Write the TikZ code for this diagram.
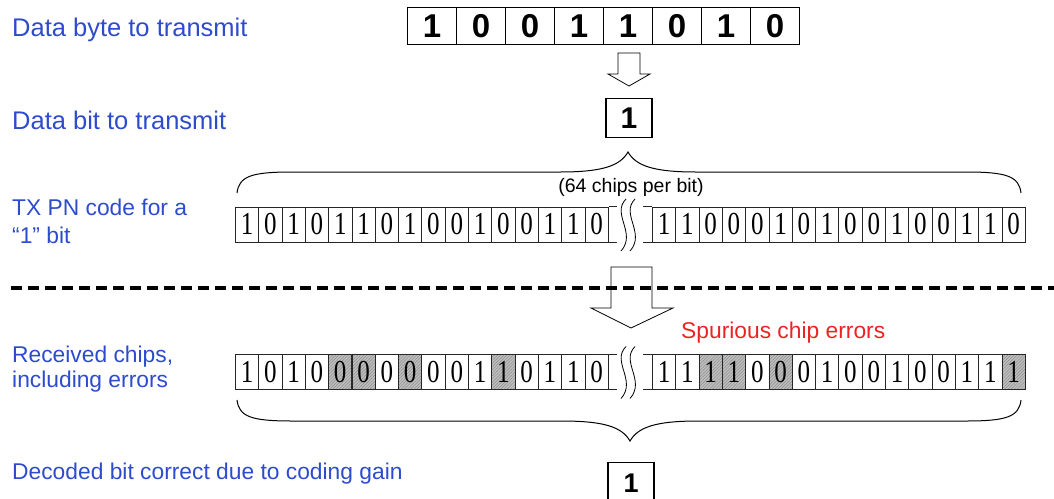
\documentclass[tikz,border=0pt]{standalone}
\usepackage{fontspec}
\setmainfont{Liberation Serif}
\setsansfont{Liberation Sans}
\usepackage{graphicx}
\usetikzlibrary{patterns.meta}
\definecolor{lblue}{RGB}{45,75,205}
\definecolor{sred}{RGB}{235,35,35}
\begin{document}
\begin{tikzpicture}[x=1pt,y=-1pt,
  lbl/.style={text=lblue,font=\sffamily\fontsize{25.5}{28}\selectfont,anchor=base west,inner sep=0pt},
  lbls/.style={text=lblue,font=\sffamily\fontsize{22.8}{28}\selectfont,anchor=base west,inner sep=0pt,align=left},
  bytecell/.style={draw,line width=1.3pt,minimum width=49pt,minimum height=37pt,inner sep=0pt,anchor=north west,font=\sffamily\bfseries\fontsize{33}{33}\selectfont},
  bitbox/.style={draw,line width=1.1pt,minimum width=46pt,minimum height=39pt,inner sep=0pt,anchor=north,font=\sffamily\bfseries\fontsize{30}{30}\selectfont},
  chip/.style={draw=black!85,line width=0.8pt,minimum width=23.3pt,minimum height=35pt,inner sep=0pt,anchor=north west,font=\fontsize{25}{25}\selectfont},
  err/.style={chip,preaction={fill=black!25},pattern={Lines[angle=45,distance=2.2pt,line width=0.5pt]},pattern color=black!45},
  chipline/.style={draw=black!85,line width=0.8pt},
  blockarrow/.style={draw,line width=0.8pt,fill=white,line join=miter},
  brace/.style={draw,line width=1pt},
  breakmark/.style={draw,line width=0.8pt},
  ]
\useasboundingbox (0,0) rectangle (1054,498);

% labels
\node[lbl] (l1) at (12,36) {Data byte to transmit};
\node[lbl] (l2) at (12,129) {Data bit to transmit};
\node[lbls] (l3) at (12,215) {TX PN code for a};
\node[lbls] (l3b) at (12,243) {“1” bit};
\node[lbls] (l4) at (12,362) {Received chips,};
\node[lbls] (l4b) at (12,387) {including errors};
\node[lbls] (l5) at (12,479) {Decoded bit correct due to coding gain};

% byte
\foreach \b [count=\i from 0] in {1,0,0,1,1,0,1,0}
  \node[bytecell] (byte\i) at ({407+49*\i},7) {\b};

% arrow 1
\draw[blockarrow] (618,53) -- (640,53) -- (640,74) -- (650,74) -- (629,86) -- (608,74) -- (618,74) -- cycle;

% bit box
\node[bitbox] (bit) at (629,98) {1};

% top brace
\draw[brace] (237,193) .. controls (239,176) and (252,172) .. (292,172) -- (560,172)
  .. controls (602,172) and (620,166) .. (628,152)
  .. controls (636,166) and (654,172) .. (696,172) -- (966,172)
  .. controls (1006,172) and (1019,176) .. (1021,193);
\node[font=\sffamily\fontsize{19.5}{20}\selectfont,anchor=base,inner sep=0pt] (chips) at (631,192) {(64 chips per bit)};

% TX row
\foreach \b [count=\i from 0] in {1,0,1,0,1,1,0,1,0,0,1,0,0,1,1,0}
  \node[chip] (ta\i) at ({235+23.3*\i},206.5) {\scalebox{1}[1.28]{\b}};
\foreach \b [count=\i from 0] in {1,1,0,0,0,1,0,1,0,0,1,0,0,1,1,0}
  \node[chip] (tb\i) at ({652+23.3*\i},206.5) {\scalebox{1}[1.28]{\b}};
\draw[chipline] (ta15.north east) -- ++(8,0) (ta15.south east) -- ++(8,0);
\draw[chipline] (tb0.north west) -- ++(-9,0) (tb0.south west) -- ++(-9,0);
\draw[breakmark] (626,199) .. controls (611,214) and (637,233) .. (621,251);
\draw[breakmark] (635,199) .. controls (620,214) and (646,233) .. (630,251);

% arrow 2 and dashed line
\draw[blockarrow] (611,267) -- (652,267) -- (652,308) -- (673,308) -- (631,328) -- (591,308) -- (611,308) -- cycle;
\draw[line width=3.5pt,dash pattern=on 11pt off 6pt] (11,288) -- (1054,288);

\node[text=sred,font=\sffamily\fontsize{22.8}{26}\selectfont,anchor=base west,inner sep=0pt] (spur) at (681,338) {Spurious chip errors};

% RX row
\foreach \b/\s [count=\i from 0] in {1/chip,0/chip,1/chip,0/chip,0/err,0/err,0/chip,0/err,0/chip,0/chip,1/chip,1/err,0/chip,1/chip,1/chip,0/chip}
  \node[\s] (ra\i) at ({235+23.3*\i},354) {\scalebox{1}[1.28]{\b}};
\foreach \b/\s [count=\i from 0] in {1/chip,1/chip,1/err,1/err,0/chip,0/err,0/chip,1/chip,0/chip,0/chip,1/chip,0/chip,0/chip,1/chip,1/chip,1/err}
  \node[\s] (rb\i) at ({652+23.3*\i},354) {\scalebox{1}[1.28]{\b}};
\draw[chipline] (ra15.north east) -- ++(8,0) (ra15.south east) -- ++(8,0);
\draw[chipline] (rb0.north west) -- ++(-9,0) (rb0.south west) -- ++(-9,0);
\draw[breakmark] (626,346.5) .. controls (611,361.5) and (637,380.5) .. (621,398.5);
\draw[breakmark] (635,346.5) .. controls (620,361.5) and (646,380.5) .. (630,398.5);

% bottom brace
\draw[brace] (237,400) .. controls (239,417) and (252,421) .. (292,421) -- (562,421)
  .. controls (604,421) and (622,427) .. (630,441)
  .. controls (638,427) and (656,421) .. (698,421) -- (966,421)
  .. controls (1006,421) and (1019,417) .. (1021,400);

% decoded bit
\node[bitbox,minimum height=42pt,font=\sffamily\bfseries\fontsize{27}{27}\selectfont] (dec) at (631,462) {1};
\end{tikzpicture}
\end{document}
